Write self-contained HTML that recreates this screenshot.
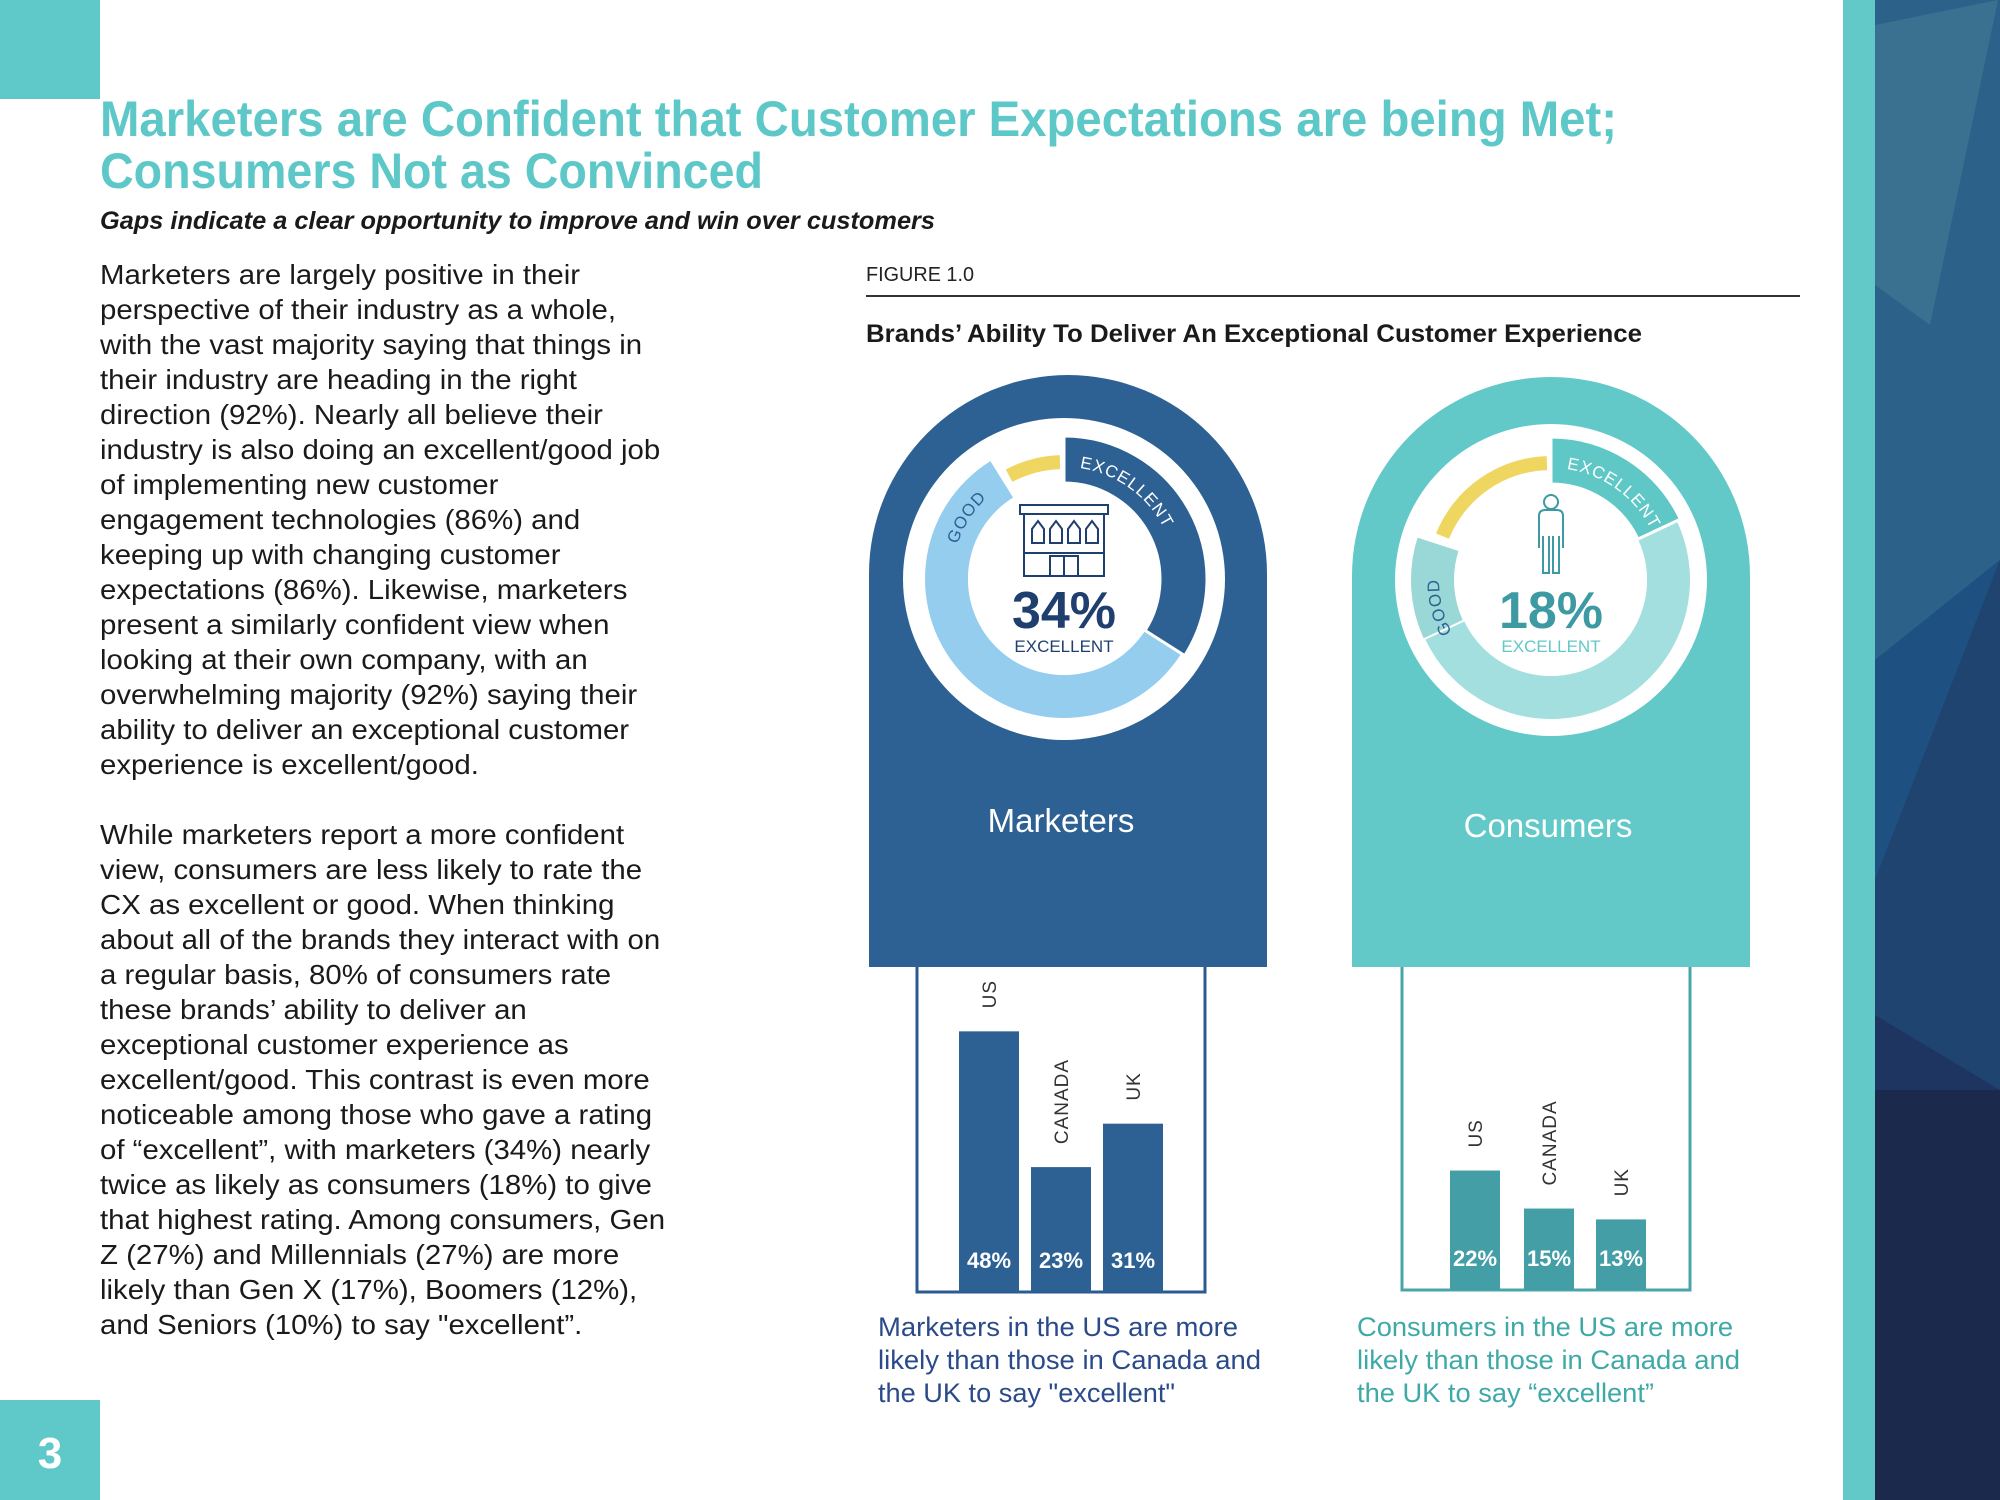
<!DOCTYPE html>
<html><head><meta charset="utf-8"><style>
html,body{margin:0;padding:0;width:2000px;height:1500px;overflow:hidden;background:#fff}
svg{display:block;font-family:"Liberation Sans",sans-serif}
</style></head><body>
<svg id="page" width="2000" height="1500" viewBox="0 0 2000 1500" xmlns="http://www.w3.org/2000/svg">
  <rect x="0" y="0" width="2000" height="1500" fill="#fff"/>
  <rect x="0" y="0" width="100" height="99" fill="#5fc8c8"/>
  <g>
    <rect x="1843" y="0" width="32" height="1500" fill="#62c8c8"/>
    <rect x="1875" y="0" width="125" height="1500" fill="#224874"/>
    <polygon points="1875,0 2000,0 2000,560 1875,660" fill="#2c6189"/>
    <polygon points="1875,25 1998,0 1930,325 1875,285" fill="#3a7090"/>
    <polygon points="1875,660 2000,560 1875,880" fill="#1f5082"/>
    <polygon points="1875,880 2000,560 2000,1090 1875,1015" fill="#1f4470"/>
    <polygon points="1875,1015 2000,1090 1875,1090" fill="#1d3560"/>
    <polygon points="1875,1090 2000,1090 2000,1500 1875,1500" fill="#1b2a4c"/>
  </g>
  <rect x="0" y="1400" width="100" height="100" fill="#5fc8c8"/>
  <text x="50" y="1468" text-anchor="middle" font-size="44" font-weight="bold" fill="#fff">3</text>

  <text x="100" y="136" font-size="50" font-weight="bold" fill="#5ec8c8" textLength="1517" lengthAdjust="spacingAndGlyphs">Marketers are Confident that Customer Expectations are being Met;</text>
  <text x="100" y="188" font-size="50" font-weight="bold" fill="#5ec8c8" textLength="663" lengthAdjust="spacingAndGlyphs">Consumers Not as Convinced</text>
  <text x="100" y="229" font-size="25" font-weight="bold" font-style="italic" fill="#1a1a1a" textLength="835" lengthAdjust="spacingAndGlyphs">Gaps indicate a clear opportunity to improve and win over customers</text>

  <g transform="translate(100,0) scale(1.05,1)" font-size="28" fill="#1a1a1a">
    <text x="0" y="284">Marketers are largely positive in their</text>
    <text x="0" y="319">perspective of their industry as a whole,</text>
    <text x="0" y="354">with the vast majority saying that things in</text>
    <text x="0" y="389">their industry are heading in the right</text>
    <text x="0" y="424">direction (92%). Nearly all believe their</text>
    <text x="0" y="459">industry is also doing an excellent/good job</text>
    <text x="0" y="494">of implementing new customer</text>
    <text x="0" y="529">engagement technologies (86%) and</text>
    <text x="0" y="564">keeping up with changing customer</text>
    <text x="0" y="599">expectations (86%). Likewise, marketers</text>
    <text x="0" y="634">present a similarly confident view when</text>
    <text x="0" y="669">looking at their own company, with an</text>
    <text x="0" y="704">overwhelming majority (92%) saying their</text>
    <text x="0" y="739">ability to deliver an exceptional customer</text>
    <text x="0" y="774">experience is excellent/good.</text>
    <text x="0" y="844">While marketers report a more confident</text>
    <text x="0" y="879">view, consumers are less likely to rate the</text>
    <text x="0" y="914">CX as excellent or good.  When thinking</text>
    <text x="0" y="949">about all of the brands they interact with on</text>
    <text x="0" y="984">a regular basis, 80% of consumers rate</text>
    <text x="0" y="1019">these brands’ ability to deliver an</text>
    <text x="0" y="1054">exceptional customer experience as</text>
    <text x="0" y="1089">excellent/good. This contrast is even more</text>
    <text x="0" y="1124">noticeable among those who gave a rating</text>
    <text x="0" y="1159">of “excellent”, with marketers (34%) nearly</text>
    <text x="0" y="1194">twice as likely as consumers (18%) to give</text>
    <text x="0" y="1229">that highest rating. Among consumers, Gen</text>
    <text x="0" y="1264">Z (27%) and Millennials (27%) are more</text>
    <text x="0" y="1299">likely than Gen X (17%), Boomers (12%),</text>
    <text x="0" y="1334">and Seniors (10%) to say "excellent”.</text>
  </g>

  <text x="866" y="281" font-size="20" fill="#222" textLength="108" lengthAdjust="spacingAndGlyphs">FIGURE 1.0</text>
  <line x1="866" y1="296" x2="1800" y2="296" stroke="#333" stroke-width="2"/>
  <text x="866" y="342" font-size="25" font-weight="bold" fill="#1a1a1a" textLength="776" lengthAdjust="spacingAndGlyphs">Brands’ Ability To Deliver An Exceptional Customer Experience</text>

  <g id="chart"></g>

  <g font-size="27">
    <g fill="#2a4a8a">
      <text x="878" y="1336" textLength="360" lengthAdjust="spacingAndGlyphs">Marketers in the US are more</text>
      <text x="878" y="1369" textLength="383" lengthAdjust="spacingAndGlyphs">likely than those in Canada and</text>
      <text x="878" y="1402" textLength="297" lengthAdjust="spacingAndGlyphs">the UK to say "excellent"</text>
    </g>
    <g fill="#3fa9a8">
      <text x="1357" y="1336" textLength="376" lengthAdjust="spacingAndGlyphs">Consumers in the US are more</text>
      <text x="1357" y="1369" textLength="383" lengthAdjust="spacingAndGlyphs">likely than those in Canada and</text>
      <text x="1357" y="1402" textLength="297" lengthAdjust="spacingAndGlyphs">the UK to say “excellent”</text>
    </g>
  </g>
</svg>
<script>
const groups = ["Marketers", "Consumers"];
const excellentPct = [34, 18];
const countries = ["US", "CANADA", "UK"];
const marketerBars = [48, 23, 31];
const consumerBars = [22, 15, 13];

const NS = "http://www.w3.org/2000/svg";
const chart = document.getElementById("chart");
function mk(tag, attrs, parent) {
  const e = document.createElementNS(NS, tag);
  for (const k in attrs) e.setAttribute(k, attrs[k]);
  (parent || chart).appendChild(e);
  return e;
}
function pt(cx, cy, r, a) { const t = (a - 90) * Math.PI / 180; return [cx + r * Math.cos(t), cy + r * Math.sin(t)]; }
function arcPath(cx, cy, r0, r1, a0, a1) {
  const L = (a1 - a0) > 180 ? 1 : 0;
  const p1 = pt(cx, cy, r1, a0), p2 = pt(cx, cy, r1, a1), p3 = pt(cx, cy, r0, a1), p4 = pt(cx, cy, r0, a0);
  return `M${p1[0]},${p1[1]} A${r1},${r1} 0 ${L} 1 ${p2[0]},${p2[1]} L${p3[0]},${p3[1]} A${r0},${r0} 0 ${L} 0 ${p4[0]},${p4[1]} Z`;
}
function arcLine(cx, cy, r, a0, a1) {
  const p1 = pt(cx, cy, r, a0), p2 = pt(cx, cy, r, a1);
  return `M${p1[0]},${p1[1]} A${r},${r} 0 0 1 ${p2[0]},${p2[1]}`;
}
const pctToDeg = v => v * 3.6;
const barScale = 5.43;
const baseY = [1292, 1290];

const cfg = [
  { x: 869, w: 398, top: 375, bottom: 967, cx: 1064, cy: 579, white: 161, main: "#2d6194", light: "#95cdef", good: "#95cdef", goodA: 300, goldA0: 332, dark: "#1f3f6e", numCol: "#1f3f6e", subCol: "#1f3f6e",
    box: [917, 1205], barX: [959, 1031, 1103], barW: 60, barCol: "#2d6194", boxCol: "#2a5a90", vals: marketerBars, goodText: "#2d6194" },
  { x: 1352, w: 398, top: 377, bottom: 967, cx: 1551, cy: 580, white: 156, main: "#62c8c8", light: "#a4dfdf", good: "#9ad8d8", goodA: 265, goldA0: 292, dark: "#3e9aa2", numCol: "#3e9aa2", subCol: "#62c8c8",
    box: [1402, 1690], barX: [1450, 1524, 1596], barW: 50, barCol: "#439ea6", boxCol: "#4aa5ab", vals: consumerBars, goodText: "#2d6194" }
];

cfg.forEach((c, gi) => {
  const key = groups[gi].toLowerCase();
  const g = mk("g", {});
  
  
  const r = c.w / 2;
  const arch = mk("path", { d: `M${c.x},${c.bottom} L${c.x},${c.top + r} A${r},${r} 0 0 1 ${c.x + c.w},${c.top + r} L${c.x + c.w},${c.bottom} Z`, fill: c.main }, g);
  
  
  mk("circle", { cx: c.cx, cy: c.cy, r: c.white, fill: "#fff" }, g);
  const exDeg = pctToDeg(excellentPct[gi]);
  const light = mk("path", { d: arcPath(c.cx, c.cy, 96, 139, exDeg, c.goldA0 - 4), fill: c.light }, g);
  
  
  if (gi === 1) {
    const gd = mk("path", { d: arcPath(c.cx, c.cy, 96, 141, c.goodA - 20, c.goldA0 - 4), fill: c.good, stroke: "#fff", "stroke-width": 2 }, g);
    
    
  }
  const gold = mk("path", { d: arcPath(c.cx, c.cy, 110, 124, c.goldA0, 358), fill: "#efd660" }, g);
  
  
  const ex = mk("path", { d: arcPath(c.cx, c.cy, 96, 143, 0, exDeg), fill: gi === 0 ? "#2d6194" : "#5fc8c6", stroke: "#fff", "stroke-width": 3 }, g);
  
  
  mk("circle", { cx: c.cx, cy: c.cy, r: 96, fill: "#fff" }, g);
  const pid = "exPath" + gi;
  mk("path", { id: pid, d: arcLine(c.cx, c.cy, 112, 8, 100), fill: "none" }, g);
  const et = mk("text", { "font-size": 17, fill: "#fff", "letter-spacing": 1 }, g);
  
  
  const tp = mk("textPath", { href: "#" + pid }, et); tp.textContent = "EXCELLENT";
  const gid = "goodPath" + gi;
  const ga = gi === 0 ? 288 : 242;
  mk("path", { id: gid, d: arcLine(c.cx, c.cy, 112, ga, ga + 50), fill: "none" }, g);
  const gt = mk("text", { "font-size": 17, fill: c.goodText, "letter-spacing": 1 }, g);
  
  
  const tp2 = mk("textPath", { href: "#" + gid }, gt); tp2.textContent = "GOOD";
  const ic = mk("g", { fill: "none", stroke: c.dark, "stroke-width": 2 }, g);
  
  
  if (gi === 0) {
    const x0 = c.cx - 44, y0 = 505;
    mk("rect", { x: x0, y: y0, width: 88, height: 9 }, ic);
    mk("rect", { x: x0 + 4, y: y0 + 9, width: 80, height: 62 }, ic);
    for (let i = 0; i < 4; i++) mk("path", { d: `M${x0 + 12 + i * 18},${y0 + 38} v-14 l6,-8 l6,8 v14 z` }, ic);
    mk("line", { x1: x0 + 4, y1: y0 + 48, x2: x0 + 84, y2: y0 + 48 }, ic);
    mk("path", { d: `M${x0 + 30},${y0 + 71} v-20 h28 v20 M${x0 + 44},${y0 + 51} v20` }, ic);
  } else {
    const x0 = c.cx;
    mk("circle", { cx: x0, cy: 502, r: 7 }, ic);
    mk("path", { d: `M${x0 - 12},${548} v-32 q0,-6 6,-6 h12 q6,0 6,6 v32 M${x0 - 8},${536} v37 h6 v-37 M${x0 + 2},${536} v37 h6 v-37` }, ic);
  }
  const num = mk("text", { x: c.cx, y: 628, "text-anchor": "middle", "font-size": 52, "font-weight": "bold", fill: c.numCol }, g);
  num.textContent = excellentPct[gi] + "%";
  
  
  const sub = mk("text", { x: c.cx, y: 652, "text-anchor": "middle", "font-size": 17, fill: c.subCol }, g);
  sub.textContent = "EXCELLENT";
  
  
  const lbl = mk("text", { x: c.cx - 3, y: gi === 0 ? 832 : 837, "text-anchor": "middle", "font-size": 33, fill: "#fff" }, g);
  lbl.textContent = groups[gi];
  
  
  const bx = mk("path", { d: `M${c.box[0]},${c.bottom} V${baseY[gi]} H${c.box[1]} V${c.bottom}`, fill: "none", stroke: c.boxCol, "stroke-width": 3 }, g);
  
  
  c.vals.forEach((v, i) => {
    const h = v * barScale;
    const y = baseY[gi] - h;
    const b = mk("rect", { x: c.barX[i], y: y, width: c.barW, height: h, fill: c.barCol }, g);
    
    
    const cxb = c.barX[i] + c.barW / 2;
    const vt = mk("text", { x: cxb, y: baseY[gi] - 24, "text-anchor": "middle", "font-size": 22, "font-weight": "bold", fill: "#fff" }, g);
    vt.textContent = v + "%";
    
    
    const ly = y - 23;
    const ct = mk("text", { x: cxb + 7, y: ly, "font-size": 19, fill: "#333", "letter-spacing": 1, transform: `rotate(-90 ${cxb + 7} ${ly})` }, g);
    ct.textContent = countries[i];
    
    
  });
});
</script>
</body></html>
